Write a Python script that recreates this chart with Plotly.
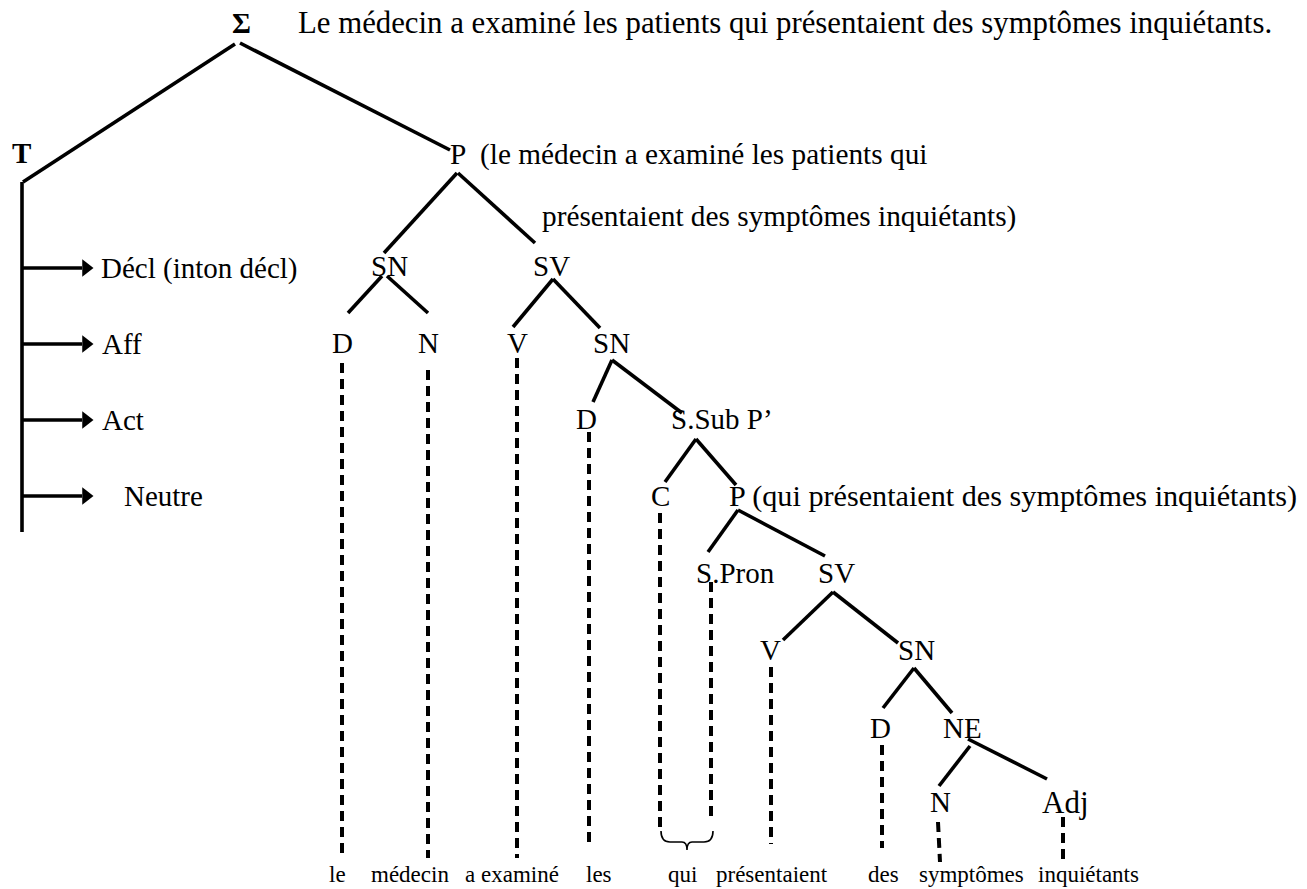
import plotly.graph_objects as go

W, H = 1307, 889
SERIF = "Liberation Serif, Times New Roman, serif"

# ---- tree node labels (centre positions) ----
node_labels = ["SN", "SV", "D", "N", "V", "SN", "D", "C", "S.Pron", "SV", "V", "SN", "D", "NE", "N", "Adj"]
node_x = [389, 551, 342, 428, 517, 611, 586, 660, 735, 836, 770, 916, 880, 962, 940, 1065]
node_y = [266, 266, 343, 343, 343, 343, 419, 496, 573, 573, 650, 650, 728, 728, 802, 802]
node_size = [29, 29, 29, 29, 29, 29, 29, 29, 29, 29, 29, 29, 29, 29, 29, 31]

# ---- left-anchored texts ----
left_texts = ["Le médecin a examiné les patients qui présentaient des symptômes inquiétants.",
              "P", "(le médecin a examiné les patients qui",
              "présentaient des symptômes inquiétants)",
              "S.Sub P’", "P (qui présentaient des symptômes inquiétants)",
              "Décl (inton décl)", "Aff", "Act", "Neutre"]
left_x = [297, 449, 479, 541, 670, 728, 100, 101, 101, 123]
left_y = [23, 154, 154, 216, 419, 496, 268, 344, 420, 496]
left_size = [30.8, 29.3, 29.3, 29.3, 29, 30.2, 29, 29, 29, 29]

# ---- bold symbols ----
bold_labels = ["Σ", "T"]
bold_x = [241, 21]
bold_y = [23, 153]

# ---- terminal words ----
words = ["le", "médecin", "a examiné", "les", "qui", "présentaient", "des", "symptômes", "inquiétants"]
word_x = [337, 410, 512, 599, 682, 772, 883, 971, 1088]
word_y = 874

# ---- solid branches (segment endpoints) ----
edge_x0 = [235, 240, 22, 457, 458, 382, 387, 553, 553, 612, 612, 696, 696, 738, 738, 833, 833, 914, 914, 970, 968]
edge_y0 = [44, 43, 182, 173, 173, 276, 276, 279, 279, 360, 360, 439, 439, 510, 510, 592, 592, 668, 668, 746, 739]
edge_x1 = [23, 450, 22, 384, 535, 348, 428, 513, 600, 593, 682, 665, 736, 708, 825, 783, 898, 883, 952, 939, 1047]
edge_y1 = [182, 150, 532, 253, 243, 313, 313, 327, 328, 402, 413, 482, 485, 552, 556, 640, 643, 708, 713, 786, 779]

# ---- dashed lexical links ----
dash_x0 = [342, 428, 517, 589, 660, 711, 771, 882, 938, 1063]
dash_x1 = [342, 428, 517, 589, 660, 711, 771, 882, 940, 1063]
dash_y0 = [363, 370, 358, 432, 513, 582, 667, 745, 822, 817]
dash_y1 = [855, 858, 858, 843, 827, 822, 844, 848, 862, 860]

# ---- arrows from T ----
arrow_y = [268, 344, 420, 496]
arrow_x0, arrow_x1 = 22, 82

# ---- brace under "qui" ----
brace_left, brace_right, brace_top, brace_bottom = 661, 713, 831, 850

fig = go.Figure()

# solid edges
ex, ey = [], []
for a, b, c, d in zip(edge_x0, edge_y0, edge_x1, edge_y1):
    ex += [a, c, None]
    ey += [b, d, None]
fig.add_trace(go.Scatter(x=ex, y=ey, mode="lines", line=dict(color="black", width=3.6),
                         hoverinfo="skip", showlegend=False))

# dashed links
dx, dy = [], []
for a, b, c, d in zip(dash_x0, dash_y0, dash_x1, dash_y1):
    dx += [a, c, None]
    dy += [b, d, None]
fig.add_trace(go.Scatter(x=dx, y=dy, mode="lines",
                         line=dict(color="black", width=4, dash="10px,6px"),
                         hoverinfo="skip", showlegend=False))

# arrows
ax, ay = [], []
for yy in arrow_y:
    ax += [arrow_x0, arrow_x1, None]
    ay += [yy, yy, None]
fig.add_trace(go.Scatter(x=ax, y=ay, mode="lines", line=dict(color="black", width=3.6),
                         hoverinfo="skip", showlegend=False))
fig.add_trace(go.Scatter(x=[86] * len(arrow_y), y=arrow_y, mode="markers",
                         marker=dict(symbol="triangle-right", size=15, color="black"),
                         hoverinfo="skip", showlegend=False))

# brace
mid = (brace_left + brace_right) / 2
bm = brace_top + 11
path = (f"M {brace_left} {brace_top} Q {brace_left} {bm} {brace_left+9} {bm} "
        f"L {mid-5} {bm} Q {mid} {bm} {mid} {brace_bottom} "
        f"Q {mid} {bm} {mid+5} {bm} L {brace_right-9} {bm} "
        f"Q {brace_right} {bm} {brace_right} {brace_top}")
fig.add_shape(type="path", path=path, xref="x", yref="y", line=dict(color="black", width=1.6))

annos = []
for t, x, y, s in zip(node_labels, node_x, node_y, node_size):
    annos.append(dict(text=t, x=x, y=y, xanchor="center", yanchor="middle", showarrow=False,
                      font=dict(family=SERIF, size=s, color="black")))
for t, x, y, s in zip(left_texts, left_x, left_y, left_size):
    annos.append(dict(text=t, x=x, y=y, xanchor="left", yanchor="middle", showarrow=False,
                      font=dict(family=SERIF, size=s, color="black")))
for t, x, y in zip(bold_labels, bold_x, bold_y):
    annos.append(dict(text=f"<b>{t}</b>", x=x, y=y, xanchor="center", yanchor="middle", showarrow=False,
                      font=dict(family=SERIF, size=29, color="black")))
for t, x in zip(words, word_x):
    annos.append(dict(text=t, x=x, y=word_y, xanchor="center", yanchor="middle", showarrow=False,
                      font=dict(family=SERIF, size=23, color="black")))
for a in annos:
    a["borderpad"] = 0

fig.update_layout(
    width=W, height=H, margin=dict(l=0, r=0, t=0, b=0),
    paper_bgcolor="white", plot_bgcolor="white",
    xaxis=dict(range=[0, W], visible=False, fixedrange=True),
    yaxis=dict(range=[H, 0], visible=False, fixedrange=True),
    annotations=annos, showlegend=False,
)

fig.write_html("out.html", config={"displayModeBar": False},
               post_script="document.body.style.margin='0';")
